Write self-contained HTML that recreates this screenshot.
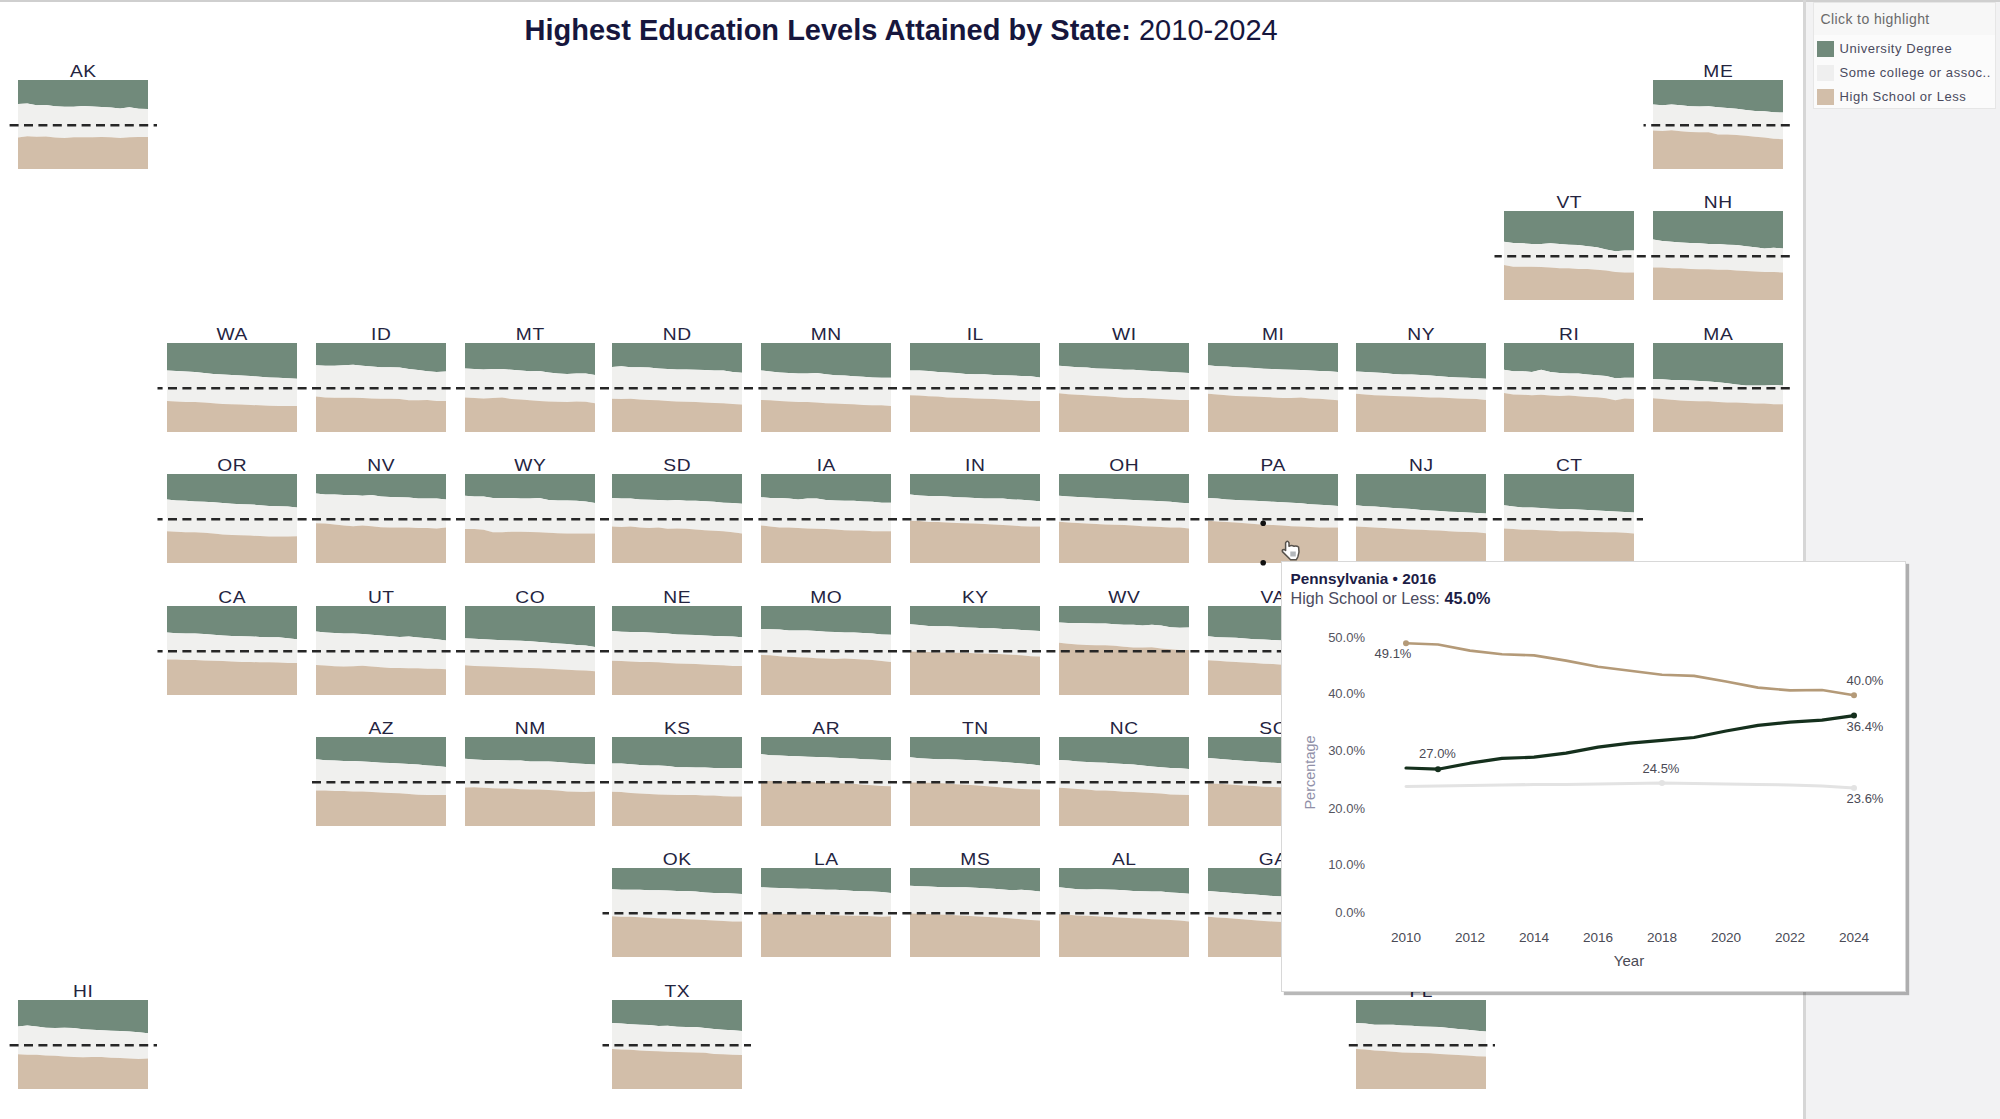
<!DOCTYPE html>
<html><head><meta charset="utf-8"><title>Highest Education Levels Attained by State</title>
<style>
html,body{margin:0;padding:0;}
body{width:2000px;height:1119px;position:relative;overflow:hidden;background:#fff;font-family:"Liberation Sans",sans-serif;}
.abs{position:absolute;}
.lbl{position:absolute;width:130px;text-align:center;font-size:17px;line-height:17px;color:#24243f;letter-spacing:0.5px;padding-left:0.5px;box-sizing:border-box;transform:scaleX(1.13);}
.title{position:absolute;left:524.5px;top:14px;font-size:29px;line-height:32px;letter-spacing:0px;color:#16163d;white-space:nowrap;}
.title b{font-weight:bold;}
.legend{position:absolute;left:1813px;top:2px;width:183px;height:107px;background:#fbfbfb;border:1px solid #e6e6e6;box-sizing:border-box;}
.lg-h{position:absolute;left:0;top:0;width:181px;height:32px;background:#f7f7f7;}
.lg-t{position:absolute;left:6.5px;top:8px;font-size:14px;line-height:16px;color:#6a6a6a;white-space:nowrap;letter-spacing:0.4px;}
.sw{position:absolute;left:3px;width:17px;height:16px;}
.li{position:absolute;left:25.5px;font-size:13px;line-height:14px;color:#4a4a5e;white-space:nowrap;letter-spacing:0.55px;}
.tip{position:absolute;left:1281px;top:561px;width:625px;height:431px;background:#fff;border:1px solid #d8d8d8;box-sizing:border-box;box-shadow:3px 3px 1px rgba(0,0,0,0.28);}
</style></head><body>

<div class="abs" style="left:0;top:0;width:2000px;height:2px;background:#cfcfcf"></div>
<div class="abs" style="left:1806px;top:2px;width:194px;height:1117px;background:#f2f2f3"></div>
<div class="abs" style="left:1803px;top:0;width:3px;height:1119px;background:#d6d6d6"></div>
<div class="title"><b>Highest Education Levels Attained by State:</b> 2010-2024</div>
<svg class="abs" style="left:0;top:0" width="1800" height="1119" viewBox="0 0 1800 1119">
<path d="M18 80 L148 80 L148 109 L138.7 108.7 L129.4 107.3 L120.1 108.5 L110.9 107.6 L101.6 107 L92.3 106.4 L83 105.9 L73.7 106.8 L64.4 106.8 L55.1 106.2 L45.9 104.9 L36.6 105.3 L27.3 103.6 L18 104Z" fill="#718a7b"/>
<path d="M18 104 L27.3 103.6 L36.6 105.3 L45.9 104.9 L55.1 106.2 L64.4 106.8 L73.7 106.8 L83 105.9 L92.3 106.4 L101.6 107 L110.9 107.6 L120.1 108.5 L129.4 107.3 L138.7 108.7 L148 109 L148 137 L138.7 137 L129.4 137.3 L120.1 137.9 L110.9 137.3 L101.6 137 L92.3 137.3 L83 137.3 L73.7 137.3 L64.4 138.1 L55.1 137.5 L45.9 136.6 L36.6 136.8 L27.3 136.2 L18 137.5Z" fill="#f0f0ee"/>
<path d="M18 137.5 L27.3 136.2 L36.6 136.8 L45.9 136.6 L55.1 137.5 L64.4 138.1 L73.7 137.3 L83 137.3 L92.3 137.3 L101.6 137 L110.9 137.3 L120.1 137.9 L129.4 137.3 L138.7 137 L148 137 L148 169 L18 169Z" fill="#d2bea9"/>
<path d="M1653 80 L1783 80 L1783 112.6 L1773.7 112.2 L1764.4 111.3 L1755.1 110.9 L1745.9 110 L1736.6 108.7 L1727.3 107.9 L1718 107.3 L1708.7 106.2 L1699.4 106.6 L1690.1 106.2 L1680.9 105.3 L1671.6 104.4 L1662.3 105.3 L1653 104.4Z" fill="#718a7b"/>
<path d="M1653 104.4 L1662.3 105.3 L1671.6 104.4 L1680.9 105.3 L1690.1 106.2 L1699.4 106.6 L1708.7 106.2 L1718 107.3 L1727.3 107.9 L1736.6 108.7 L1745.9 110 L1755.1 110.9 L1764.4 111.3 L1773.7 112.2 L1783 112.6 L1783 139.2 L1773.7 138.7 L1764.4 137.5 L1755.1 136.8 L1745.9 135.7 L1736.6 134.9 L1727.3 134.5 L1718 134.5 L1708.7 132.3 L1699.4 132.3 L1690.1 131.9 L1680.9 131.3 L1671.6 130.2 L1662.3 131 L1653 130.6Z" fill="#f0f0ee"/>
<path d="M1653 130.6 L1662.3 131 L1671.6 130.2 L1680.9 131.3 L1690.1 131.9 L1699.4 132.3 L1708.7 132.3 L1718 134.5 L1727.3 134.5 L1736.6 134.9 L1745.9 135.7 L1755.1 136.8 L1764.4 137.5 L1773.7 138.7 L1783 139.2 L1783 169 L1653 169Z" fill="#d2bea9"/>
<path d="M1504 211 L1634 211 L1634 250.6 L1624.7 250.6 L1615.4 251.3 L1606.1 249.5 L1596.9 247.3 L1587.6 246.2 L1578.3 245.1 L1569 244.7 L1559.7 244 L1550.4 243.3 L1541.1 244 L1531.9 244 L1522.6 243.3 L1513.3 242.9 L1504 241.8Z" fill="#718a7b"/>
<path d="M1504 241.8 L1513.3 242.9 L1522.6 243.3 L1531.9 244 L1541.1 244 L1550.4 243.3 L1559.7 244 L1569 244.7 L1578.3 245.1 L1587.6 246.2 L1596.9 247.3 L1606.1 249.5 L1615.4 251.3 L1624.7 250.6 L1634 250.6 L1634 272.6 L1624.7 272.6 L1615.4 271.9 L1606.1 270.4 L1596.9 269.7 L1587.6 268.9 L1578.3 268.9 L1569 268.2 L1559.7 268.2 L1550.4 267.5 L1541.1 267.1 L1531.9 266.7 L1522.6 266.7 L1513.3 266.7 L1504 264.9Z" fill="#f0f0ee"/>
<path d="M1504 264.9 L1513.3 266.7 L1522.6 266.7 L1531.9 266.7 L1541.1 267.1 L1550.4 267.5 L1559.7 268.2 L1569 268.2 L1578.3 268.9 L1587.6 268.9 L1596.9 269.7 L1606.1 270.4 L1615.4 271.9 L1624.7 272.6 L1634 272.6 L1634 300 L1504 300Z" fill="#d2bea9"/>
<path d="M1653 211 L1783 211 L1783 248.4 L1773.7 247.7 L1764.4 248.4 L1755.1 247.3 L1745.9 246.2 L1736.6 245.1 L1727.3 244.7 L1718 244 L1708.7 244 L1699.4 243.3 L1690.1 242.9 L1680.9 242.4 L1671.6 241.8 L1662.3 241.1 L1653 239.6Z" fill="#718a7b"/>
<path d="M1653 239.6 L1662.3 241.1 L1671.6 241.8 L1680.9 242.4 L1690.1 242.9 L1699.4 243.3 L1708.7 244 L1718 244 L1727.3 244.7 L1736.6 245.1 L1745.9 246.2 L1755.1 247.3 L1764.4 248.4 L1773.7 247.7 L1783 248.4 L1783 272.6 L1773.7 271.9 L1764.4 271.9 L1755.1 271.5 L1745.9 271.1 L1736.6 270.4 L1727.3 269.7 L1718 269.7 L1708.7 269.3 L1699.4 269.3 L1690.1 268.9 L1680.9 268.2 L1671.6 268.2 L1662.3 267.5 L1653 267.5Z" fill="#f0f0ee"/>
<path d="M1653 267.5 L1662.3 267.5 L1671.6 268.2 L1680.9 268.2 L1690.1 268.9 L1699.4 269.3 L1708.7 269.3 L1718 269.7 L1727.3 269.7 L1736.6 270.4 L1745.9 271.1 L1755.1 271.5 L1764.4 271.9 L1773.7 271.9 L1783 272.6 L1783 300 L1653 300Z" fill="#d2bea9"/>
<path d="M167 343 L297 343 L297 378.8 L287.7 378.2 L278.4 377.8 L269.1 377.4 L259.9 376.8 L250.6 375.9 L241.3 375.6 L232 374.9 L222.7 374.5 L213.4 373.9 L204.1 373 L194.9 372 L185.6 371.6 L176.3 371 L167 370.5Z" fill="#718a7b"/>
<path d="M167 370.5 L176.3 371 L185.6 371.6 L194.9 372 L204.1 373 L213.4 373.9 L222.7 374.5 L232 374.9 L241.3 375.6 L250.6 375.9 L259.9 376.8 L269.1 377.4 L278.4 377.8 L287.7 378.2 L297 378.8 L297 406.1 L287.7 406.1 L278.4 406.1 L269.1 405.8 L259.9 405.3 L250.6 404.9 L241.3 404.6 L232 404.3 L222.7 403.9 L213.4 403.2 L204.1 402.5 L194.9 402 L185.6 402 L176.3 401.4 L167 401Z" fill="#f0f0ee"/>
<path d="M167 401 L176.3 401.4 L185.6 402 L194.9 402 L204.1 402.5 L213.4 403.2 L222.7 403.9 L232 404.3 L241.3 404.6 L250.6 404.9 L259.9 405.3 L269.1 405.8 L278.4 406.1 L287.7 406.1 L297 406.1 L297 432 L167 432Z" fill="#d2bea9"/>
<path d="M316 343 L446 343 L446 371.6 L436.7 372 L427.4 371.3 L418.1 370.1 L408.9 369.1 L399.6 367.6 L390.3 367.2 L381 367.2 L371.7 366.6 L362.4 365.8 L353.1 364.8 L343.9 365.2 L334.6 365.8 L325.3 365.8 L316 365.2Z" fill="#718a7b"/>
<path d="M316 365.2 L325.3 365.8 L334.6 365.8 L343.9 365.2 L353.1 364.8 L362.4 365.8 L371.7 366.6 L381 367.2 L390.3 367.2 L399.6 367.6 L408.9 369.1 L418.1 370.1 L427.4 371.3 L436.7 372 L446 371.6 L446 401 L436.7 401 L427.4 400 L418.1 400.3 L408.9 400.3 L399.6 399.1 L390.3 398.8 L381 398.8 L371.7 398.5 L362.4 398.1 L353.1 397.7 L343.9 397.7 L334.6 397.7 L325.3 397.4 L316 396.6Z" fill="#f0f0ee"/>
<path d="M316 396.6 L325.3 397.4 L334.6 397.7 L343.9 397.7 L353.1 397.7 L362.4 398.1 L371.7 398.5 L381 398.8 L390.3 398.8 L399.6 399.1 L408.9 400.3 L418.1 400.3 L427.4 400 L436.7 401 L446 401 L446 432 L316 432Z" fill="#d2bea9"/>
<path d="M465 343 L595 343 L595 374.9 L585.7 373.4 L576.4 373.4 L567.1 373.9 L557.9 373.4 L548.6 372.4 L539.3 371 L530 371.3 L520.7 370.5 L511.4 369.8 L502.1 369.1 L492.9 369.1 L483.6 369.5 L474.3 369.1 L465 368.4Z" fill="#718a7b"/>
<path d="M465 368.4 L474.3 369.1 L483.6 369.5 L492.9 369.1 L502.1 369.1 L511.4 369.8 L520.7 370.5 L530 371.3 L539.3 371 L548.6 372.4 L557.9 373.4 L567.1 373.9 L576.4 373.4 L585.7 373.4 L595 374.9 L595 403.2 L585.7 401.7 L576.4 401.4 L567.1 402 L557.9 401.7 L548.6 401.4 L539.3 401 L530 400.3 L520.7 399.5 L511.4 399.1 L502.1 397.4 L492.9 398.1 L483.6 398.5 L474.3 398.1 L465 397.4Z" fill="#f0f0ee"/>
<path d="M465 397.4 L474.3 398.1 L483.6 398.5 L492.9 398.1 L502.1 397.4 L511.4 399.1 L520.7 399.5 L530 400.3 L539.3 401 L548.6 401.4 L557.9 401.7 L567.1 402 L576.4 401.4 L585.7 401.7 L595 403.2 L595 432 L465 432Z" fill="#d2bea9"/>
<path d="M612 343 L742 343 L742 372.7 L732.7 372 L723.4 370.5 L714.1 370.5 L704.9 370.1 L695.6 369.8 L686.3 369.5 L677 369.5 L667.7 369.1 L658.4 368.4 L649.1 367.6 L639.9 367.2 L630.6 367.2 L621.3 366.2 L612 366.9Z" fill="#718a7b"/>
<path d="M612 366.9 L621.3 366.2 L630.6 367.2 L639.9 367.2 L649.1 367.6 L658.4 368.4 L667.7 369.1 L677 369.5 L686.3 369.5 L695.6 369.8 L704.9 370.1 L714.1 370.5 L723.4 370.5 L732.7 372 L742 372.7 L742 404.6 L732.7 403.9 L723.4 403.2 L714.1 402.9 L704.9 402.4 L695.6 402 L686.3 401.7 L677 401.4 L667.7 401 L658.4 400.3 L649.1 400 L639.9 399.5 L630.6 398.8 L621.3 399.1 L612 398.8Z" fill="#f0f0ee"/>
<path d="M612 398.8 L621.3 399.1 L630.6 398.8 L639.9 399.5 L649.1 400 L658.4 400.3 L667.7 401 L677 401.4 L686.3 401.7 L695.6 402 L704.9 402.4 L714.1 402.9 L723.4 403.2 L732.7 403.9 L742 404.6 L742 432 L612 432Z" fill="#d2bea9"/>
<path d="M761 343 L891 343 L891 377.8 L881.7 377.8 L872.4 377.4 L863.1 376.8 L853.9 376.3 L844.6 375.6 L835.3 375.3 L826 374.2 L816.7 373 L807.4 373.4 L798.1 373.4 L788.9 373 L779.6 372.4 L770.3 371.6 L761 370.5Z" fill="#718a7b"/>
<path d="M761 370.5 L770.3 371.6 L779.6 372.4 L788.9 373 L798.1 373.4 L807.4 373.4 L816.7 373 L826 374.2 L835.3 375.3 L844.6 375.6 L853.9 376.3 L863.1 376.8 L872.4 377.4 L881.7 377.8 L891 377.8 L891 406.1 L881.7 405.3 L872.4 405.3 L863.1 404.9 L853.9 404.3 L844.6 403.9 L835.3 403.5 L826 403.2 L816.7 402.4 L807.4 402 L798.1 402 L788.9 401.4 L779.6 401 L770.3 400.3 L761 400Z" fill="#f0f0ee"/>
<path d="M761 400 L770.3 400.3 L779.6 401 L788.9 401.4 L798.1 402 L807.4 402 L816.7 402.4 L826 403.2 L835.3 403.5 L844.6 403.9 L853.9 404.3 L863.1 404.9 L872.4 405.3 L881.7 405.3 L891 406.1 L891 432 L761 432Z" fill="#d2bea9"/>
<path d="M910 343 L1040 343 L1040 377.4 L1030.7 376.3 L1021.4 375.9 L1012.1 375.6 L1002.9 375.3 L993.6 374.9 L984.3 374.2 L975 374.2 L965.7 373.9 L956.4 373 L947.1 372.4 L937.9 372 L928.6 371 L919.3 370.5 L910 370.5Z" fill="#718a7b"/>
<path d="M910 370.5 L919.3 370.5 L928.6 371 L937.9 372 L947.1 372.4 L956.4 373 L965.7 373.9 L975 374.2 L984.3 374.2 L993.6 374.9 L1002.9 375.3 L1012.1 375.6 L1021.4 375.9 L1030.7 376.3 L1040 377.4 L1040 401 L1030.7 401 L1021.4 400.3 L1012.1 400 L1002.9 399.5 L993.6 399.1 L984.3 398.8 L975 398.5 L965.7 398.1 L956.4 397.7 L947.1 397.4 L937.9 396.6 L928.6 396.2 L919.3 395.6 L910 395.2Z" fill="#f0f0ee"/>
<path d="M910 395.2 L919.3 395.6 L928.6 396.2 L937.9 396.6 L947.1 397.4 L956.4 397.7 L965.7 398.1 L975 398.5 L984.3 398.8 L993.6 399.1 L1002.9 399.5 L1012.1 400 L1021.4 400.3 L1030.7 401 L1040 401 L1040 432 L910 432Z" fill="#d2bea9"/>
<path d="M1059 343 L1189 343 L1189 373 L1179.7 372.4 L1170.4 372 L1161.1 371.6 L1151.9 371 L1142.6 370.5 L1133.3 369.8 L1124 369.8 L1114.7 369.1 L1105.4 368.7 L1096.1 368.4 L1086.9 367.6 L1077.6 367.2 L1068.3 366.6 L1059 365.8Z" fill="#718a7b"/>
<path d="M1059 365.8 L1068.3 366.6 L1077.6 367.2 L1086.9 367.6 L1096.1 368.4 L1105.4 368.7 L1114.7 369.1 L1124 369.8 L1133.3 369.8 L1142.6 370.5 L1151.9 371 L1161.1 371.6 L1170.4 372 L1179.7 372.4 L1189 373 L1189 400 L1179.7 400 L1170.4 399.5 L1161.1 399.1 L1151.9 398.5 L1142.6 398.1 L1133.3 398.1 L1124 397.7 L1114.7 397.1 L1105.4 396.2 L1096.1 395.9 L1086.9 395.2 L1077.6 394.8 L1068.3 394.2 L1059 393.3Z" fill="#f0f0ee"/>
<path d="M1059 393.3 L1068.3 394.2 L1077.6 394.8 L1086.9 395.2 L1096.1 395.9 L1105.4 396.2 L1114.7 397.1 L1124 397.7 L1133.3 398.1 L1142.6 398.1 L1151.9 398.5 L1161.1 399.1 L1170.4 399.5 L1179.7 400 L1189 400 L1189 432 L1059 432Z" fill="#d2bea9"/>
<path d="M1208 343 L1338 343 L1338 372 L1328.7 371.3 L1319.4 371 L1310.1 370.5 L1300.9 370.1 L1291.6 369.8 L1282.3 369.5 L1273 369.1 L1263.7 368.7 L1254.4 368.1 L1245.1 367.6 L1235.9 367.2 L1226.6 366.6 L1217.3 366.2 L1208 365.2Z" fill="#718a7b"/>
<path d="M1208 365.2 L1217.3 366.2 L1226.6 366.6 L1235.9 367.2 L1245.1 367.6 L1254.4 368.1 L1263.7 368.7 L1273 369.1 L1282.3 369.5 L1291.6 369.8 L1300.9 370.1 L1310.1 370.5 L1319.4 371 L1328.7 371.3 L1338 372 L1338 400.3 L1328.7 399.5 L1319.4 398.8 L1310.1 398.5 L1300.9 397.6 L1291.6 398.1 L1282.3 398.1 L1273 397.4 L1263.7 397.1 L1254.4 396.6 L1245.1 396.2 L1235.9 395.9 L1226.6 395.2 L1217.3 394.5 L1208 393.8Z" fill="#f0f0ee"/>
<path d="M1208 393.8 L1217.3 394.5 L1226.6 395.2 L1235.9 395.9 L1245.1 396.2 L1254.4 396.6 L1263.7 397.1 L1273 397.4 L1282.3 398.1 L1291.6 398.1 L1300.9 397.6 L1310.1 398.5 L1319.4 398.8 L1328.7 399.5 L1338 400.3 L1338 432 L1208 432Z" fill="#d2bea9"/>
<path d="M1356 343 L1486 343 L1486 378.8 L1476.7 378.2 L1467.4 377.8 L1458.1 377.4 L1448.9 377.1 L1439.6 376.3 L1430.3 375.6 L1421 374.9 L1411.7 374.5 L1402.4 374.5 L1393.1 373.9 L1383.9 373 L1374.6 372.4 L1365.3 372 L1356 371.6Z" fill="#718a7b"/>
<path d="M1356 371.6 L1365.3 372 L1374.6 372.4 L1383.9 373 L1393.1 373.9 L1402.4 374.5 L1411.7 374.5 L1421 374.9 L1430.3 375.6 L1439.6 376.3 L1448.9 377.1 L1458.1 377.4 L1467.4 377.8 L1476.7 378.2 L1486 378.8 L1486 400 L1476.7 399.1 L1467.4 398.8 L1458.1 398.5 L1448.9 398.1 L1439.6 397.6 L1430.3 397.4 L1421 397.1 L1411.7 396.6 L1402.4 396.2 L1393.1 395.9 L1383.9 395.6 L1374.6 395.2 L1365.3 394.5 L1356 393.8Z" fill="#f0f0ee"/>
<path d="M1356 393.8 L1365.3 394.5 L1374.6 395.2 L1383.9 395.6 L1393.1 395.9 L1402.4 396.2 L1411.7 396.6 L1421 397.1 L1430.3 397.4 L1439.6 397.6 L1448.9 398.1 L1458.1 398.5 L1467.4 398.8 L1476.7 399.1 L1486 400 L1486 432 L1356 432Z" fill="#d2bea9"/>
<path d="M1504 343 L1634 343 L1634 377.8 L1624.7 377.8 L1615.4 378.2 L1606.1 376.1 L1596.9 375.3 L1587.6 374.4 L1578.3 373.4 L1569 373.4 L1559.7 373.1 L1550.4 371.9 L1541.1 369.7 L1531.9 371.9 L1522.6 371.2 L1513.3 371.2 L1504 369.7Z" fill="#718a7b"/>
<path d="M1504 369.7 L1513.3 371.2 L1522.6 371.2 L1531.9 371.9 L1541.1 369.7 L1550.4 371.9 L1559.7 373.1 L1569 373.4 L1578.3 373.4 L1587.6 374.4 L1596.9 375.3 L1606.1 376.1 L1615.4 378.2 L1624.7 377.8 L1634 377.8 L1634 399 L1624.7 398.6 L1615.4 400.3 L1606.1 398.2 L1596.9 397.3 L1587.6 396.9 L1578.3 396.3 L1569 395.6 L1559.7 396.1 L1550.4 395.6 L1541.1 394.8 L1531.9 395.2 L1522.6 394.8 L1513.3 394.4 L1504 393.1Z" fill="#f0f0ee"/>
<path d="M1504 393.1 L1513.3 394.4 L1522.6 394.8 L1531.9 395.2 L1541.1 394.8 L1550.4 395.6 L1559.7 396.1 L1569 395.6 L1578.3 396.3 L1587.6 396.9 L1596.9 397.3 L1606.1 398.2 L1615.4 400.3 L1624.7 398.6 L1634 399 L1634 432 L1504 432Z" fill="#d2bea9"/>
<path d="M1653 343 L1783 343 L1783 385.5 L1773.7 385 L1764.4 385.5 L1755.1 385.5 L1745.9 385.5 L1736.6 384.4 L1727.3 383.3 L1718 382.2 L1708.7 381.5 L1699.4 381.1 L1690.1 380.6 L1680.9 380 L1671.6 380 L1662.3 379.3 L1653 378.9Z" fill="#718a7b"/>
<path d="M1653 378.9 L1662.3 379.3 L1671.6 380 L1680.9 380 L1690.1 380.6 L1699.4 381.1 L1708.7 381.5 L1718 382.2 L1727.3 383.3 L1736.6 384.4 L1745.9 385.5 L1755.1 385.5 L1764.4 385.5 L1773.7 385 L1783 385.5 L1783 404.2 L1773.7 404.2 L1764.4 403.5 L1755.1 403.5 L1745.9 403.1 L1736.6 402.6 L1727.3 402.6 L1718 402 L1708.7 401.3 L1699.4 401.3 L1690.1 400.9 L1680.9 400.4 L1671.6 399.8 L1662.3 399.1 L1653 398.2Z" fill="#f0f0ee"/>
<path d="M1653 398.2 L1662.3 399.1 L1671.6 399.8 L1680.9 400.4 L1690.1 400.9 L1699.4 401.3 L1708.7 401.3 L1718 402 L1727.3 402.6 L1736.6 402.6 L1745.9 403.1 L1755.1 403.5 L1764.4 403.5 L1773.7 404.2 L1783 404.2 L1783 432 L1653 432Z" fill="#d2bea9"/>
<path d="M167 474 L297 474 L297 507.6 L287.7 506.6 L278.4 506.2 L269.1 505.9 L259.9 505.2 L250.6 504.4 L241.3 504.2 L232 503.7 L222.7 503 L213.4 502.3 L204.1 501.8 L194.9 501.5 L185.6 500.8 L176.3 500.4 L167 499.4Z" fill="#718a7b"/>
<path d="M167 499.4 L176.3 500.4 L185.6 500.8 L194.9 501.5 L204.1 501.8 L213.4 502.3 L222.7 503 L232 503.7 L241.3 504.2 L250.6 504.4 L259.9 505.2 L269.1 505.9 L278.4 506.2 L287.7 506.6 L297 507.6 L297 536.3 L287.7 536.6 L278.4 536.6 L269.1 536.6 L259.9 536.1 L250.6 535.6 L241.3 535.2 L232 534.9 L222.7 534.6 L213.4 533.4 L204.1 532.7 L194.9 532.3 L185.6 532.3 L176.3 531.7 L167 531.3Z" fill="#f0f0ee"/>
<path d="M167 531.3 L176.3 531.7 L185.6 532.3 L194.9 532.3 L204.1 532.7 L213.4 533.4 L222.7 534.6 L232 534.9 L241.3 535.2 L250.6 535.6 L259.9 536.1 L269.1 536.6 L278.4 536.6 L287.7 536.6 L297 536.3 L297 563 L167 563Z" fill="#d2bea9"/>
<path d="M316 474 L446 474 L446 499.4 L436.7 498.6 L427.4 498.4 L418.1 498.6 L408.9 497.5 L399.6 497.2 L390.3 496.9 L381 496.5 L371.7 495 L362.4 495.8 L353.1 495 L343.9 495 L334.6 494.6 L325.3 494.6 L316 493.6Z" fill="#718a7b"/>
<path d="M316 493.6 L325.3 494.6 L334.6 494.6 L343.9 495 L353.1 495 L362.4 495.8 L371.7 495 L381 496.5 L390.3 496.9 L399.6 497.2 L408.9 497.5 L418.1 498.6 L427.4 498.4 L436.7 498.6 L446 499.4 L446 527.6 L436.7 528.4 L427.4 527.9 L418.1 527.9 L408.9 527.6 L399.6 527.6 L390.3 527.6 L381 527.2 L371.7 526.2 L362.4 525.5 L353.1 526.2 L343.9 525.5 L334.6 524.5 L325.3 523.6 L316 523.3Z" fill="#f0f0ee"/>
<path d="M316 523.3 L325.3 523.6 L334.6 524.5 L343.9 525.5 L353.1 526.2 L362.4 525.5 L371.7 526.2 L381 527.2 L390.3 527.6 L399.6 527.6 L408.9 527.6 L418.1 527.9 L427.4 527.9 L436.7 528.4 L446 527.6 L446 563 L316 563Z" fill="#d2bea9"/>
<path d="M465 474 L595 474 L595 503 L585.7 501.5 L576.4 500.8 L567.1 500.4 L557.9 500.4 L548.6 500.1 L539.3 497.9 L530 498.6 L520.7 498.6 L511.4 497.9 L502.1 497.9 L492.9 497.9 L483.6 496.5 L474.3 496.5 L465 495.8Z" fill="#718a7b"/>
<path d="M465 495.8 L474.3 496.5 L483.6 496.5 L492.9 497.9 L502.1 497.9 L511.4 497.9 L520.7 498.6 L530 498.6 L539.3 497.9 L548.6 500.1 L557.9 500.4 L567.1 500.4 L576.4 500.8 L585.7 501.5 L595 503 L595 533.4 L585.7 533.4 L576.4 533.4 L567.1 533.4 L557.9 533.2 L548.6 532.7 L539.3 532.3 L530 532 L520.7 531.7 L511.4 531.7 L502.1 532.3 L492.9 532.3 L483.6 529.8 L474.3 529.1 L465 529.1Z" fill="#f0f0ee"/>
<path d="M465 529.1 L474.3 529.1 L483.6 529.8 L492.9 532.3 L502.1 532.3 L511.4 531.7 L520.7 531.7 L530 532 L539.3 532.3 L548.6 532.7 L557.9 533.2 L567.1 533.4 L576.4 533.4 L585.7 533.4 L595 533.4 L595 563 L465 563Z" fill="#d2bea9"/>
<path d="M612 474 L742 474 L742 503.7 L732.7 503 L723.4 502.7 L714.1 501.8 L704.9 501.3 L695.6 500.8 L686.3 500.8 L677 500.1 L667.7 500.4 L658.4 500.1 L649.1 499.8 L639.9 499.4 L630.6 498.6 L621.3 498.6 L612 497.9Z" fill="#718a7b"/>
<path d="M612 497.9 L621.3 498.6 L630.6 498.6 L639.9 499.4 L649.1 499.8 L658.4 500.1 L667.7 500.4 L677 500.1 L686.3 500.8 L695.6 500.8 L704.9 501.3 L714.1 501.8 L723.4 502.7 L732.7 503 L742 503.7 L742 533.4 L732.7 532.3 L723.4 531.3 L714.1 530.8 L704.9 530.3 L695.6 529.4 L686.3 528.8 L677 528.4 L667.7 528.8 L658.4 527.6 L649.1 527.9 L639.9 527.6 L630.6 526.5 L621.3 526.9 L612 526.5Z" fill="#f0f0ee"/>
<path d="M612 526.5 L621.3 526.9 L630.6 526.5 L639.9 527.6 L649.1 527.9 L658.4 527.6 L667.7 528.8 L677 528.4 L686.3 528.8 L695.6 529.4 L704.9 530.3 L714.1 530.8 L723.4 531.3 L732.7 532.3 L742 533.4 L742 563 L612 563Z" fill="#d2bea9"/>
<path d="M761 474 L891 474 L891 502.7 L881.7 502.7 L872.4 501.8 L863.1 501.5 L853.9 500.8 L844.6 500.8 L835.3 500.4 L826 500.1 L816.7 498.6 L807.4 498.6 L798.1 499.4 L788.9 498.6 L779.6 497.9 L770.3 497.9 L761 497.2Z" fill="#718a7b"/>
<path d="M761 497.2 L770.3 497.9 L779.6 497.9 L788.9 498.6 L798.1 499.4 L807.4 498.6 L816.7 498.6 L826 500.1 L835.3 500.4 L844.6 500.8 L853.9 500.8 L863.1 501.5 L872.4 501.8 L881.7 502.7 L891 502.7 L891 531.3 L881.7 531.3 L872.4 531.3 L863.1 530.5 L853.9 530.5 L844.6 530.3 L835.3 529.4 L826 529.1 L816.7 528.8 L807.4 528.4 L798.1 527.9 L788.9 527.6 L779.6 527.4 L770.3 526.5 L761 525.5Z" fill="#f0f0ee"/>
<path d="M761 525.5 L770.3 526.5 L779.6 527.4 L788.9 527.6 L798.1 527.9 L807.4 528.4 L816.7 528.8 L826 529.1 L835.3 529.4 L844.6 530.3 L853.9 530.5 L863.1 530.5 L872.4 531.3 L881.7 531.3 L891 531.3 L891 563 L761 563Z" fill="#d2bea9"/>
<path d="M910 474 L1040 474 L1040 501.3 L1030.7 500.4 L1021.4 499.8 L1012.1 499.4 L1002.9 498.6 L993.6 498.4 L984.3 498.4 L975 497.9 L965.7 497.5 L956.4 497.2 L947.1 496.5 L937.9 496 L928.6 496 L919.3 495.5 L910 494.6Z" fill="#718a7b"/>
<path d="M910 494.6 L919.3 495.5 L928.6 496 L937.9 496 L947.1 496.5 L956.4 497.2 L965.7 497.5 L975 497.9 L984.3 498.4 L993.6 498.4 L1002.9 498.6 L1012.1 499.4 L1021.4 499.8 L1030.7 500.4 L1040 501.3 L1040 526.5 L1030.7 526.5 L1021.4 526.2 L1012.1 525.5 L1002.9 525 L993.6 524.5 L984.3 524 L975 523.6 L965.7 523.3 L956.4 523 L947.1 522.6 L937.9 522.1 L928.6 522.1 L919.3 521.1 L910 520.7Z" fill="#f0f0ee"/>
<path d="M910 520.7 L919.3 521.1 L928.6 522.1 L937.9 522.1 L947.1 522.6 L956.4 523 L965.7 523.3 L975 523.6 L984.3 524 L993.6 524.5 L1002.9 525 L1012.1 525.5 L1021.4 526.2 L1030.7 526.5 L1040 526.5 L1040 563 L910 563Z" fill="#d2bea9"/>
<path d="M1059 474 L1189 474 L1189 503.3 L1179.7 502.7 L1170.4 501.8 L1161.1 501.3 L1151.9 500.8 L1142.6 500.4 L1133.3 500.1 L1124 499.4 L1114.7 498.9 L1105.4 498.6 L1096.1 497.9 L1086.9 497.5 L1077.6 496.9 L1068.3 496.5 L1059 495.8Z" fill="#718a7b"/>
<path d="M1059 495.8 L1068.3 496.5 L1077.6 496.9 L1086.9 497.5 L1096.1 497.9 L1105.4 498.6 L1114.7 498.9 L1124 499.4 L1133.3 500.1 L1142.6 500.4 L1151.9 500.8 L1161.1 501.3 L1170.4 501.8 L1179.7 502.7 L1189 503.3 L1189 528.4 L1179.7 527.6 L1170.4 527.4 L1161.1 526.9 L1151.9 526.5 L1142.6 526.2 L1133.3 525.5 L1124 525 L1114.7 524.8 L1105.4 524.5 L1096.1 524 L1086.9 523.6 L1077.6 523 L1068.3 522.6 L1059 521.8Z" fill="#f0f0ee"/>
<path d="M1059 521.8 L1068.3 522.6 L1077.6 523 L1086.9 523.6 L1096.1 524 L1105.4 524.5 L1114.7 524.8 L1124 525 L1133.3 525.5 L1142.6 526.2 L1151.9 526.5 L1161.1 526.9 L1170.4 527.4 L1179.7 527.6 L1189 528.4 L1189 563 L1059 563Z" fill="#d2bea9"/>
<path d="M1208 474 L1338 474 L1338 505.9 L1328.7 505.2 L1319.4 504.7 L1310.1 504.2 L1300.9 503.3 L1291.6 502.7 L1282.3 502.3 L1273 501.8 L1263.7 501.3 L1254.4 500.8 L1245.1 500.4 L1235.9 500.1 L1226.6 499.4 L1217.3 498.6 L1208 497.9Z" fill="#718a7b"/>
<path d="M1208 497.9 L1217.3 498.6 L1226.6 499.4 L1235.9 500.1 L1245.1 500.4 L1254.4 500.8 L1263.7 501.3 L1273 501.8 L1282.3 502.3 L1291.6 502.7 L1300.9 503.3 L1310.1 504.2 L1319.4 504.7 L1328.7 505.2 L1338 505.9 L1338 527.6 L1328.7 527.6 L1319.4 527.4 L1310.1 526.9 L1300.9 526.5 L1291.6 526.2 L1282.3 525.5 L1273 525 L1263.7 524.8 L1254.4 524 L1245.1 523.3 L1235.9 522.6 L1226.6 522.1 L1217.3 521.6 L1208 520.7Z" fill="#f0f0ee"/>
<path d="M1208 520.7 L1217.3 521.6 L1226.6 522.1 L1235.9 522.6 L1245.1 523.3 L1254.4 524 L1263.7 524.8 L1273 525 L1282.3 525.5 L1291.6 526.2 L1300.9 526.5 L1310.1 526.9 L1319.4 527.4 L1328.7 527.6 L1338 527.6 L1338 563 L1208 563Z" fill="#d2bea9"/>
<path d="M1356 474 L1486 474 L1486 513.4 L1476.7 512.9 L1467.4 512.4 L1458.1 512 L1448.9 511.7 L1439.6 511 L1430.3 510.5 L1421 510 L1411.7 509.1 L1402.4 508.5 L1393.1 508.1 L1383.9 507.3 L1374.6 506.6 L1365.3 506.2 L1356 505.2Z" fill="#718a7b"/>
<path d="M1356 505.2 L1365.3 506.2 L1374.6 506.6 L1383.9 507.3 L1393.1 508.1 L1402.4 508.5 L1411.7 509.1 L1421 510 L1430.3 510.5 L1439.6 511 L1448.9 511.7 L1458.1 512 L1467.4 512.4 L1476.7 512.9 L1486 513.4 L1486 533.2 L1476.7 532.3 L1467.4 532 L1458.1 531.7 L1448.9 531.3 L1439.6 530.5 L1430.3 530.3 L1421 529.8 L1411.7 529.4 L1402.4 529.1 L1393.1 528.4 L1383.9 527.9 L1374.6 527.6 L1365.3 526.9 L1356 526.5Z" fill="#f0f0ee"/>
<path d="M1356 526.5 L1365.3 526.9 L1374.6 527.6 L1383.9 527.9 L1393.1 528.4 L1402.4 529.1 L1411.7 529.4 L1421 529.8 L1430.3 530.3 L1439.6 530.5 L1448.9 531.3 L1458.1 531.7 L1467.4 532 L1476.7 532.3 L1486 533.2 L1486 563 L1356 563Z" fill="#d2bea9"/>
<path d="M1504 474 L1634 474 L1634 512.4 L1624.7 512 L1615.4 511.4 L1606.1 511 L1596.9 510.5 L1587.6 510 L1578.3 509.5 L1569 509.1 L1559.7 509.1 L1550.4 508.8 L1541.1 508.1 L1531.9 507.6 L1522.6 507.6 L1513.3 506.6 L1504 505.2Z" fill="#718a7b"/>
<path d="M1504 505.2 L1513.3 506.6 L1522.6 507.6 L1531.9 507.6 L1541.1 508.1 L1550.4 508.8 L1559.7 509.1 L1569 509.1 L1578.3 509.5 L1587.6 510 L1596.9 510.5 L1606.1 511 L1615.4 511.4 L1624.7 512 L1634 512.4 L1634 533.4 L1624.7 532.7 L1615.4 532.3 L1606.1 532.3 L1596.9 532 L1587.6 531.7 L1578.3 531.3 L1569 531.3 L1559.7 531.3 L1550.4 530.5 L1541.1 530.3 L1531.9 529.8 L1522.6 529.8 L1513.3 529.1 L1504 528.4Z" fill="#f0f0ee"/>
<path d="M1504 528.4 L1513.3 529.1 L1522.6 529.8 L1531.9 529.8 L1541.1 530.3 L1550.4 530.5 L1559.7 531.3 L1569 531.3 L1578.3 531.3 L1587.6 531.7 L1596.9 532 L1606.1 532.3 L1615.4 532.3 L1624.7 532.7 L1634 533.4 L1634 563 L1504 563Z" fill="#d2bea9"/>
<path d="M167 606 L297 606 L297 639.3 L287.7 638.3 L278.4 637.3 L269.1 637.3 L259.9 636.9 L250.6 636.4 L241.3 636.2 L232 635.9 L222.7 635.4 L213.4 634.7 L204.1 634 L194.9 633.6 L185.6 633.6 L176.3 633.3 L167 632.5Z" fill="#718a7b"/>
<path d="M167 632.5 L176.3 633.3 L185.6 633.6 L194.9 633.6 L204.1 634 L213.4 634.7 L222.7 635.4 L232 635.9 L241.3 636.2 L250.6 636.4 L259.9 636.9 L269.1 637.3 L278.4 637.3 L287.7 638.3 L297 639.3 L297 663 L287.7 663 L278.4 662.5 L269.1 662.3 L259.9 662.3 L250.6 662 L241.3 662 L232 661.5 L222.7 661.1 L213.4 660.8 L204.1 660.5 L194.9 660.1 L185.6 660.1 L176.3 659.6 L167 659.4Z" fill="#f0f0ee"/>
<path d="M167 659.4 L176.3 659.6 L185.6 660.1 L194.9 660.1 L204.1 660.5 L213.4 660.8 L222.7 661.1 L232 661.5 L241.3 662 L250.6 662 L259.9 662.3 L269.1 662.3 L278.4 662.5 L287.7 663 L297 663 L297 695 L167 695Z" fill="#d2bea9"/>
<path d="M316 606 L446 606 L446 640.5 L436.7 639.3 L427.4 638.3 L418.1 637.6 L408.9 636.4 L399.6 636.9 L390.3 636.2 L381 635.4 L371.7 634.7 L362.4 634 L353.1 633.6 L343.9 633.6 L334.6 633 L325.3 632.5 L316 631.5Z" fill="#718a7b"/>
<path d="M316 631.5 L325.3 632.5 L334.6 633 L343.9 633.6 L353.1 633.6 L362.4 634 L371.7 634.7 L381 635.4 L390.3 636.2 L399.6 636.9 L408.9 636.4 L418.1 637.6 L427.4 638.3 L436.7 639.3 L446 640.5 L446 669.2 L436.7 668.8 L427.4 668.8 L418.1 668.3 L408.9 668.3 L399.6 668 L390.3 668 L381 667.3 L371.7 666.6 L362.4 665.8 L353.1 666.3 L343.9 666.6 L334.6 666.3 L325.3 665.4 L316 664.9Z" fill="#f0f0ee"/>
<path d="M316 664.9 L325.3 665.4 L334.6 666.3 L343.9 666.6 L353.1 666.3 L362.4 665.8 L371.7 666.6 L381 667.3 L390.3 668 L399.6 668 L408.9 668.3 L418.1 668.3 L427.4 668.8 L436.7 668.8 L446 669.2 L446 695 L316 695Z" fill="#d2bea9"/>
<path d="M465 606 L595 606 L595 647 L585.7 645.6 L576.4 644.9 L567.1 644.1 L557.9 643.4 L548.6 642.7 L539.3 642 L530 641.2 L520.7 640.8 L511.4 640.5 L502.1 640.2 L492.9 639.8 L483.6 639.3 L474.3 638.8 L465 638.3Z" fill="#718a7b"/>
<path d="M465 638.3 L474.3 638.8 L483.6 639.3 L492.9 639.8 L502.1 640.2 L511.4 640.5 L520.7 640.8 L530 641.2 L539.3 642 L548.6 642.7 L557.9 643.4 L567.1 644.1 L576.4 644.9 L585.7 645.6 L595 647 L595 671.2 L585.7 670.6 L576.4 670.2 L567.1 669.8 L557.9 669.2 L548.6 668.8 L539.3 668.3 L530 668 L520.7 667.8 L511.4 667.3 L502.1 666.9 L492.9 666.6 L483.6 666.3 L474.3 665.9 L465 665.2Z" fill="#f0f0ee"/>
<path d="M465 665.2 L474.3 665.9 L483.6 666.3 L492.9 666.6 L502.1 666.9 L511.4 667.3 L520.7 667.8 L530 668 L539.3 668.3 L548.6 668.8 L557.9 669.2 L567.1 669.8 L576.4 670.2 L585.7 670.6 L595 671.2 L595 695 L465 695Z" fill="#d2bea9"/>
<path d="M612 606 L742 606 L742 637.3 L732.7 636.4 L723.4 636.2 L714.1 635.9 L704.9 635.4 L695.6 635 L686.3 634.7 L677 634.4 L667.7 633.6 L658.4 633 L649.1 632.5 L639.9 632.1 L630.6 632.1 L621.3 631.8 L612 631.1Z" fill="#718a7b"/>
<path d="M612 631.1 L621.3 631.8 L630.6 632.1 L639.9 632.1 L649.1 632.5 L658.4 633 L667.7 633.6 L677 634.4 L686.3 634.7 L695.6 635 L704.9 635.4 L714.1 635.9 L723.4 636.2 L732.7 636.4 L742 637.3 L742 665.9 L732.7 665.9 L723.4 665.2 L714.1 664.9 L704.9 664.4 L695.6 664 L686.3 663.7 L677 663.4 L667.7 663 L658.4 662.3 L649.1 662 L639.9 662 L630.6 661.5 L621.3 661.1 L612 660.8Z" fill="#f0f0ee"/>
<path d="M612 660.8 L621.3 661.1 L630.6 661.5 L639.9 662 L649.1 662 L658.4 662.3 L667.7 663 L677 663.4 L686.3 663.7 L695.6 664 L704.9 664.4 L714.1 664.9 L723.4 665.2 L732.7 665.9 L742 665.9 L742 695 L612 695Z" fill="#d2bea9"/>
<path d="M761 606 L891 606 L891 634.7 L881.7 634.4 L872.4 633.6 L863.1 633 L853.9 632.5 L844.6 632.5 L835.3 632.1 L826 631.8 L816.7 631.1 L807.4 630.6 L798.1 630.6 L788.9 630.4 L779.6 629.6 L770.3 629.2 L761 628.9Z" fill="#718a7b"/>
<path d="M761 628.9 L770.3 629.2 L779.6 629.6 L788.9 630.4 L798.1 630.6 L807.4 630.6 L816.7 631.1 L826 631.8 L835.3 632.1 L844.6 632.5 L853.9 632.5 L863.1 633 L872.4 633.6 L881.7 634.4 L891 634.7 L891 662 L881.7 661.1 L872.4 660.1 L863.1 659.6 L853.9 659.1 L844.6 658.6 L835.3 659.1 L826 658.6 L816.7 658.2 L807.4 657.6 L798.1 657.2 L788.9 656.8 L779.6 656.2 L770.3 655.3 L761 655Z" fill="#f0f0ee"/>
<path d="M761 655 L770.3 655.3 L779.6 656.2 L788.9 656.8 L798.1 657.2 L807.4 657.6 L816.7 658.2 L826 658.6 L835.3 659.1 L844.6 658.6 L853.9 659.1 L863.1 659.6 L872.4 660.1 L881.7 661.1 L891 662 L891 695 L761 695Z" fill="#d2bea9"/>
<path d="M910 606 L1040 606 L1040 631.1 L1030.7 630.6 L1021.4 630.1 L1012.1 629.2 L1002.9 628.9 L993.6 628.2 L984.3 628.2 L975 627.8 L965.7 627.5 L956.4 626.7 L947.1 626.3 L937.9 626.3 L928.6 626 L919.3 624.9 L910 624.3Z" fill="#718a7b"/>
<path d="M910 624.3 L919.3 624.9 L928.6 626 L937.9 626.3 L947.1 626.3 L956.4 626.7 L965.7 627.5 L975 627.8 L984.3 628.2 L993.6 628.2 L1002.9 628.9 L1012.1 629.2 L1021.4 630.1 L1030.7 630.6 L1040 631.1 L1040 656.5 L1030.7 656.2 L1021.4 655.3 L1012.1 654.7 L1002.9 654.3 L993.6 653.8 L984.3 653.6 L975 653.3 L965.7 652.8 L956.4 652.8 L947.1 652.4 L937.9 652.4 L928.6 652.1 L919.3 651.8 L910 651.4Z" fill="#f0f0ee"/>
<path d="M910 651.4 L919.3 651.8 L928.6 652.1 L937.9 652.4 L947.1 652.4 L956.4 652.8 L965.7 652.8 L975 653.3 L984.3 653.6 L993.6 653.8 L1002.9 654.3 L1012.1 654.7 L1021.4 655.3 L1030.7 656.2 L1040 656.5 L1040 695 L910 695Z" fill="#d2bea9"/>
<path d="M1059 606 L1189 606 L1189 627.6 L1179.7 627.8 L1170.4 627.2 L1161.1 625.4 L1151.9 624.8 L1142.6 625.4 L1133.3 624.8 L1124 624.8 L1114.7 624.2 L1105.4 623.6 L1096.1 623.6 L1086.9 623.3 L1077.6 623 L1068.3 623 L1059 622.4Z" fill="#718a7b"/>
<path d="M1059 622.4 L1068.3 623 L1077.6 623 L1086.9 623.3 L1096.1 623.6 L1105.4 623.6 L1114.7 624.2 L1124 624.8 L1133.3 624.8 L1142.6 625.4 L1151.9 624.8 L1161.1 625.4 L1170.4 627.2 L1179.7 627.8 L1189 627.6 L1189 650 L1179.7 650 L1170.4 649.2 L1161.1 648.5 L1151.9 647.3 L1142.6 647.6 L1133.3 647.6 L1124 646.8 L1114.7 645.8 L1105.4 645.2 L1096.1 645.2 L1086.9 644.9 L1077.6 644.6 L1068.3 643.7 L1059 642.8Z" fill="#f0f0ee"/>
<path d="M1059 642.8 L1068.3 643.7 L1077.6 644.6 L1086.9 644.9 L1096.1 645.2 L1105.4 645.2 L1114.7 645.8 L1124 646.8 L1133.3 647.6 L1142.6 647.6 L1151.9 647.3 L1161.1 648.5 L1170.4 649.2 L1179.7 650 L1189 650 L1189 695 L1059 695Z" fill="#d2bea9"/>
<path d="M1208 606 L1338 606 L1338 643.3 L1328.7 642.8 L1319.4 642.3 L1310.1 641.8 L1300.9 641.3 L1291.6 640.8 L1282.3 640.4 L1273 640.1 L1263.7 639.6 L1254.4 639.2 L1245.1 638.4 L1235.9 637.7 L1226.6 637.4 L1217.3 637.2 L1208 636.2Z" fill="#718a7b"/>
<path d="M1208 636.2 L1217.3 637.2 L1226.6 637.4 L1235.9 637.7 L1245.1 638.4 L1254.4 639.2 L1263.7 639.6 L1273 640.1 L1282.3 640.4 L1291.6 640.8 L1300.9 641.3 L1310.1 641.8 L1319.4 642.3 L1328.7 642.8 L1338 643.3 L1338 667.8 L1328.7 667.3 L1319.4 666.8 L1310.1 666.3 L1300.9 665.8 L1291.6 665.3 L1282.3 664.8 L1273 664.1 L1263.7 663.8 L1254.4 662.9 L1245.1 662.6 L1235.9 662 L1226.6 661.4 L1217.3 660.8 L1208 660.2Z" fill="#f0f0ee"/>
<path d="M1208 660.2 L1217.3 660.8 L1226.6 661.4 L1235.9 662 L1245.1 662.6 L1254.4 662.9 L1263.7 663.8 L1273 664.1 L1282.3 664.8 L1291.6 665.3 L1300.9 665.8 L1310.1 666.3 L1319.4 666.8 L1328.7 667.3 L1338 667.8 L1338 695 L1208 695Z" fill="#d2bea9"/>
<path d="M1356 606 L1486 606 L1486 644 L1453.5 642 L1421 640 L1388.5 638 L1356 636Z" fill="#718a7b"/>
<path d="M1356 636 L1388.5 638 L1421 640 L1453.5 642 L1486 644 L1486 664 L1453.5 662 L1421 660 L1388.5 658 L1356 656Z" fill="#f0f0ee"/>
<path d="M1356 656 L1388.5 658 L1421 660 L1453.5 662 L1486 664 L1486 695 L1356 695Z" fill="#d2bea9"/>
<path d="M316 737 L446 737 L446 766.9 L436.7 766 L427.4 765.4 L418.1 764.6 L408.9 764 L399.6 763.5 L390.3 763.1 L381 762.8 L371.7 762.1 L362.4 761.4 L353.1 761.1 L343.9 761.1 L334.6 760.6 L325.3 760.2 L316 759.2Z" fill="#718a7b"/>
<path d="M316 759.2 L325.3 760.2 L334.6 760.6 L343.9 761.1 L353.1 761.1 L362.4 761.4 L371.7 762.1 L381 762.8 L390.3 763.1 L399.6 763.5 L408.9 764 L418.1 764.6 L427.4 765.4 L436.7 766 L446 766.9 L446 795 L436.7 795 L427.4 795 L418.1 794.7 L408.9 794 L399.6 793.3 L390.3 793 L381 792.5 L371.7 792.1 L362.4 791.5 L353.1 791.5 L343.9 791.1 L334.6 791.1 L325.3 790.6 L316 790.4Z" fill="#f0f0ee"/>
<path d="M316 790.4 L325.3 790.6 L334.6 791.1 L343.9 791.1 L353.1 791.5 L362.4 791.5 L371.7 792.1 L381 792.5 L390.3 793 L399.6 793.3 L408.9 794 L418.1 794.7 L427.4 795 L436.7 795 L446 795 L446 826 L316 826Z" fill="#d2bea9"/>
<path d="M465 737 L595 737 L595 764.5 L585.7 764 L576.4 763.5 L567.1 762.8 L557.9 762.1 L548.6 761.4 L539.3 761.6 L530 761.4 L520.7 760.6 L511.4 760.6 L502.1 760.2 L492.9 759.9 L483.6 759.9 L474.3 759.6 L465 758.8Z" fill="#718a7b"/>
<path d="M465 758.8 L474.3 759.6 L483.6 759.9 L492.9 759.9 L502.1 760.2 L511.4 760.6 L520.7 760.6 L530 761.4 L539.3 761.6 L548.6 761.4 L557.9 762.1 L567.1 762.8 L576.4 763.5 L585.7 764 L595 764.5 L595 791.5 L585.7 792.1 L576.4 791.8 L567.1 791.5 L557.9 790.4 L548.6 790.1 L539.3 789.6 L530 789.6 L520.7 789.2 L511.4 788.6 L502.1 788.6 L492.9 788.2 L483.6 787.8 L474.3 787.2 L465 787.5Z" fill="#f0f0ee"/>
<path d="M465 787.5 L474.3 787.2 L483.6 787.8 L492.9 788.2 L502.1 788.6 L511.4 788.6 L520.7 789.2 L530 789.6 L539.3 789.6 L548.6 790.1 L557.9 790.4 L567.1 791.5 L576.4 791.8 L585.7 792.1 L595 791.5 L595 826 L465 826Z" fill="#d2bea9"/>
<path d="M612 737 L742 737 L742 768.3 L732.7 767.9 L723.4 767.9 L714.1 767.9 L704.9 767.4 L695.6 767.4 L686.3 767.2 L677 767.2 L667.7 766 L658.4 765.4 L649.1 765.4 L639.9 765 L630.6 764.3 L621.3 763.5 L612 763.5Z" fill="#718a7b"/>
<path d="M612 763.5 L621.3 763.5 L630.6 764.3 L639.9 765 L649.1 765.4 L658.4 765.4 L667.7 766 L677 767.2 L686.3 767.2 L695.6 767.4 L704.9 767.4 L714.1 767.9 L723.4 767.9 L732.7 767.9 L742 768.3 L742 796.4 L732.7 796.4 L723.4 796.2 L714.1 795.4 L704.9 795.4 L695.6 795 L686.3 795 L677 795 L667.7 794.7 L658.4 794.4 L649.1 794 L639.9 793.5 L630.6 793 L621.3 792.1 L612 791.8Z" fill="#f0f0ee"/>
<path d="M612 791.8 L621.3 792.1 L630.6 793 L639.9 793.5 L649.1 794 L658.4 794.4 L667.7 794.7 L677 795 L686.3 795 L695.6 795 L704.9 795.4 L714.1 795.4 L723.4 796.2 L732.7 796.4 L742 796.4 L742 826 L612 826Z" fill="#d2bea9"/>
<path d="M761 737 L891 737 L891 760.6 L881.7 759.9 L872.4 759.6 L863.1 759.2 L853.9 758.5 L844.6 758.2 L835.3 757.7 L826 757.3 L816.7 757 L807.4 756.7 L798.1 756.3 L788.9 755.9 L779.6 755.6 L770.3 755.3 L761 754.1Z" fill="#718a7b"/>
<path d="M761 754.1 L770.3 755.3 L779.6 755.6 L788.9 755.9 L798.1 756.3 L807.4 756.7 L816.7 757 L826 757.3 L835.3 757.7 L844.6 758.2 L853.9 758.5 L863.1 759.2 L872.4 759.6 L881.7 759.9 L891 760.6 L891 786.3 L881.7 786 L872.4 785.3 L863.1 784.8 L853.9 783.8 L844.6 783.4 L835.3 783.1 L826 782.8 L816.7 782.4 L807.4 782 L798.1 781.7 L788.9 781.4 L779.6 781.4 L770.3 780.9 L761 780.9Z" fill="#f0f0ee"/>
<path d="M761 780.9 L770.3 780.9 L779.6 781.4 L788.9 781.4 L798.1 781.7 L807.4 782 L816.7 782.4 L826 782.8 L835.3 783.1 L844.6 783.4 L853.9 783.8 L863.1 784.8 L872.4 785.3 L881.7 786 L891 786.3 L891 826 L761 826Z" fill="#d2bea9"/>
<path d="M910 737 L1040 737 L1040 765.4 L1030.7 764.3 L1021.4 763.5 L1012.1 762.8 L1002.9 762.1 L993.6 761.4 L984.3 761.1 L975 760.2 L965.7 759.9 L956.4 759.6 L947.1 759.2 L937.9 759.2 L928.6 758.8 L919.3 758.2 L910 757.3Z" fill="#718a7b"/>
<path d="M910 757.3 L919.3 758.2 L928.6 758.8 L937.9 759.2 L947.1 759.2 L956.4 759.6 L965.7 759.9 L975 760.2 L984.3 761.1 L993.6 761.4 L1002.9 762.1 L1012.1 762.8 L1021.4 763.5 L1030.7 764.3 L1040 765.4 L1040 789.6 L1030.7 789.2 L1021.4 788.9 L1012.1 788.2 L1002.9 787.5 L993.6 786.7 L984.3 786 L975 785.3 L965.7 784.8 L956.4 784.3 L947.1 783.4 L937.9 783.1 L928.6 782.8 L919.3 782.4 L910 782.4Z" fill="#f0f0ee"/>
<path d="M910 782.4 L919.3 782.4 L928.6 782.8 L937.9 783.1 L947.1 783.4 L956.4 784.3 L965.7 784.8 L975 785.3 L984.3 786 L993.6 786.7 L1002.9 787.5 L1012.1 788.2 L1021.4 788.9 L1030.7 789.2 L1040 789.6 L1040 826 L910 826Z" fill="#d2bea9"/>
<path d="M1059 737 L1189 737 L1189 768.9 L1179.7 768.3 L1170.4 767.9 L1161.1 767.2 L1151.9 766.4 L1142.6 765.4 L1133.3 764.6 L1124 764 L1114.7 763.5 L1105.4 762.8 L1096.1 762.5 L1086.9 762.1 L1077.6 761.4 L1068.3 760.6 L1059 759.9Z" fill="#718a7b"/>
<path d="M1059 759.9 L1068.3 760.6 L1077.6 761.4 L1086.9 762.1 L1096.1 762.5 L1105.4 762.8 L1114.7 763.5 L1124 764 L1133.3 764.6 L1142.6 765.4 L1151.9 766.4 L1161.1 767.2 L1170.4 767.9 L1179.7 768.3 L1189 768.9 L1189 795 L1179.7 794.7 L1170.4 794.4 L1161.1 793.5 L1151.9 793 L1142.6 792.5 L1133.3 792.1 L1124 791.8 L1114.7 791.1 L1105.4 790.6 L1096.1 790.4 L1086.9 789.6 L1077.6 788.9 L1068.3 788.2 L1059 787.8Z" fill="#f0f0ee"/>
<path d="M1059 787.8 L1068.3 788.2 L1077.6 788.9 L1086.9 789.6 L1096.1 790.4 L1105.4 790.6 L1114.7 791.1 L1124 791.8 L1133.3 792.1 L1142.6 792.5 L1151.9 793 L1161.1 793.5 L1170.4 794.4 L1179.7 794.7 L1189 795 L1189 826 L1059 826Z" fill="#d2bea9"/>
<path d="M1208 737 L1338 737 L1338 766 L1328.7 765.6 L1319.4 765.2 L1310.1 764.7 L1300.9 764.2 L1291.6 763.7 L1282.3 763.2 L1273 762.8 L1263.7 762.3 L1254.4 761.6 L1245.1 761 L1235.9 760.3 L1226.6 759.5 L1217.3 758.8 L1208 758.1Z" fill="#718a7b"/>
<path d="M1208 758.1 L1217.3 758.8 L1226.6 759.5 L1235.9 760.3 L1245.1 761 L1254.4 761.6 L1263.7 762.3 L1273 762.8 L1282.3 763.2 L1291.6 763.7 L1300.9 764.2 L1310.1 764.7 L1319.4 765.2 L1328.7 765.6 L1338 766 L1338 790.5 L1328.7 790 L1319.4 789.5 L1310.1 789 L1300.9 788.4 L1291.6 787.9 L1282.3 787.3 L1273 787 L1263.7 786.7 L1254.4 786.1 L1245.1 785.5 L1235.9 784.9 L1226.6 784.3 L1217.3 783.8 L1208 783.2Z" fill="#f0f0ee"/>
<path d="M1208 783.2 L1217.3 783.8 L1226.6 784.3 L1235.9 784.9 L1245.1 785.5 L1254.4 786.1 L1263.7 786.7 L1273 787 L1282.3 787.3 L1291.6 787.9 L1300.9 788.4 L1310.1 789 L1319.4 789.5 L1328.7 790 L1338 790.5 L1338 826 L1208 826Z" fill="#d2bea9"/>
<path d="M612 868 L742 868 L742 894.1 L732.7 893.5 L723.4 893.1 L714.1 893.1 L704.9 892.4 L695.6 891.6 L686.3 890.9 L677 890.9 L667.7 890.6 L658.4 890.2 L649.1 890.2 L639.9 889.8 L630.6 889.8 L621.3 889.8 L612 889.2Z" fill="#718a7b"/>
<path d="M612 889.2 L621.3 889.8 L630.6 889.8 L639.9 889.8 L649.1 890.2 L658.4 890.2 L667.7 890.6 L677 890.9 L686.3 890.9 L695.6 891.6 L704.9 892.4 L714.1 893.1 L723.4 893.1 L732.7 893.5 L742 894.1 L742 921.6 L732.7 921.4 L723.4 921.1 L714.1 920.6 L704.9 919.9 L695.6 919.6 L686.3 919.2 L677 918.8 L667.7 918.5 L658.4 918.2 L649.1 917.7 L639.9 917.3 L630.6 916.7 L621.3 916.7 L612 916.3Z" fill="#f0f0ee"/>
<path d="M612 916.3 L621.3 916.7 L630.6 916.7 L639.9 917.3 L649.1 917.7 L658.4 918.2 L667.7 918.5 L677 918.8 L686.3 919.2 L695.6 919.6 L704.9 919.9 L714.1 920.6 L723.4 921.1 L732.7 921.4 L742 921.6 L742 957 L612 957Z" fill="#d2bea9"/>
<path d="M761 868 L891 868 L891 893.1 L881.7 892.1 L872.4 891.6 L863.1 891.2 L853.9 890.9 L844.6 890.2 L835.3 889.8 L826 889.8 L816.7 889.2 L807.4 888.7 L798.1 888.7 L788.9 888.3 L779.6 888 L770.3 887.7 L761 887.3Z" fill="#718a7b"/>
<path d="M761 887.3 L770.3 887.7 L779.6 888 L788.9 888.3 L798.1 888.7 L807.4 888.7 L816.7 889.2 L826 889.8 L835.3 889.8 L844.6 890.2 L853.9 890.9 L863.1 891.2 L872.4 891.6 L881.7 892.1 L891 893.1 L891 916.3 L881.7 916.7 L872.4 916.3 L863.1 915.8 L853.9 915.8 L844.6 915.6 L835.3 915.3 L826 914.8 L816.7 914.8 L807.4 914.4 L798.1 914.4 L788.9 914.1 L779.6 913.8 L770.3 913.4 L761 913.4Z" fill="#f0f0ee"/>
<path d="M761 913.4 L770.3 913.4 L779.6 913.8 L788.9 914.1 L798.1 914.4 L807.4 914.4 L816.7 914.8 L826 914.8 L835.3 915.3 L844.6 915.6 L853.9 915.8 L863.1 915.8 L872.4 916.3 L881.7 916.7 L891 916.3 L891 957 L761 957Z" fill="#d2bea9"/>
<path d="M910 868 L1040 868 L1040 891.6 L1030.7 890.6 L1021.4 889.8 L1012.1 890.2 L1002.9 889.5 L993.6 888.7 L984.3 888.3 L975 887.7 L965.7 887.3 L956.4 887.3 L947.1 887.3 L937.9 886.9 L928.6 886.6 L919.3 886.3 L910 885.8Z" fill="#718a7b"/>
<path d="M910 885.8 L919.3 886.3 L928.6 886.6 L937.9 886.9 L947.1 887.3 L956.4 887.3 L965.7 887.3 L975 887.7 L984.3 888.3 L993.6 888.7 L1002.9 889.5 L1012.1 890.2 L1021.4 889.8 L1030.7 890.6 L1040 891.6 L1040 920.6 L1030.7 919.9 L1021.4 919.2 L1012.1 918.5 L1002.9 917.7 L993.6 917.3 L984.3 916.7 L975 916.3 L965.7 915.8 L956.4 915.3 L947.1 914.8 L937.9 914.4 L928.6 914.1 L919.3 913.8 L910 913.4Z" fill="#f0f0ee"/>
<path d="M910 913.4 L919.3 913.8 L928.6 914.1 L937.9 914.4 L947.1 914.8 L956.4 915.3 L965.7 915.8 L975 916.3 L984.3 916.7 L993.6 917.3 L1002.9 917.7 L1012.1 918.5 L1021.4 919.2 L1030.7 919.9 L1040 920.6 L1040 957 L910 957Z" fill="#d2bea9"/>
<path d="M1059 868 L1189 868 L1189 893.8 L1179.7 893.1 L1170.4 892.4 L1161.1 891.6 L1151.9 891.6 L1142.6 891.2 L1133.3 890.9 L1124 890.2 L1114.7 889.8 L1105.4 889.5 L1096.1 889.2 L1086.9 889.5 L1077.6 889.2 L1068.3 888.3 L1059 887.3Z" fill="#718a7b"/>
<path d="M1059 887.3 L1068.3 888.3 L1077.6 889.2 L1086.9 889.5 L1096.1 889.2 L1105.4 889.5 L1114.7 889.8 L1124 890.2 L1133.3 890.9 L1142.6 891.2 L1151.9 891.6 L1161.1 891.6 L1170.4 892.4 L1179.7 893.1 L1189 893.8 L1189 921.4 L1179.7 920.6 L1170.4 919.9 L1161.1 919.6 L1151.9 919.2 L1142.6 918.5 L1133.3 918.2 L1124 917.7 L1114.7 917.3 L1105.4 916.7 L1096.1 916.3 L1086.9 915.8 L1077.6 915.6 L1068.3 914.8 L1059 914.1Z" fill="#f0f0ee"/>
<path d="M1059 914.1 L1068.3 914.8 L1077.6 915.6 L1086.9 915.8 L1096.1 916.3 L1105.4 916.7 L1114.7 917.3 L1124 917.7 L1133.3 918.2 L1142.6 918.5 L1151.9 919.2 L1161.1 919.6 L1170.4 919.9 L1179.7 920.6 L1189 921.4 L1189 957 L1059 957Z" fill="#d2bea9"/>
<path d="M1208 868 L1338 868 L1338 899.5 L1328.7 899 L1319.4 898.5 L1310.1 898 L1300.9 897.5 L1291.6 897 L1282.3 896.5 L1273 896 L1263.7 895.3 L1254.4 894.6 L1245.1 893.9 L1235.9 893.2 L1226.6 892.5 L1217.3 891.8 L1208 891.1Z" fill="#718a7b"/>
<path d="M1208 891.1 L1217.3 891.8 L1226.6 892.5 L1235.9 893.2 L1245.1 893.9 L1254.4 894.6 L1263.7 895.3 L1273 896 L1282.3 896.5 L1291.6 897 L1300.9 897.5 L1310.1 898 L1319.4 898.5 L1328.7 899 L1338 899.5 L1338 924.4 L1328.7 924 L1319.4 923.6 L1310.1 923.2 L1300.9 922.8 L1291.6 922.4 L1282.3 922 L1273 921.5 L1263.7 920.9 L1254.4 920.2 L1245.1 919.5 L1235.9 918.8 L1226.6 918.1 L1217.3 917.4 L1208 916.7Z" fill="#f0f0ee"/>
<path d="M1208 916.7 L1217.3 917.4 L1226.6 918.1 L1235.9 918.8 L1245.1 919.5 L1254.4 920.2 L1263.7 920.9 L1273 921.5 L1282.3 922 L1291.6 922.4 L1300.9 922.8 L1310.1 923.2 L1319.4 923.6 L1328.7 924 L1338 924.4 L1338 957 L1208 957Z" fill="#d2bea9"/>
<path d="M18 1000 L148 1000 L148 1033.3 L138.7 1032.2 L129.4 1031.6 L120.1 1031.1 L110.9 1030.7 L101.6 1030.3 L92.3 1029.8 L83 1029.2 L73.7 1028 L64.4 1027.7 L55.1 1028 L45.9 1027.7 L36.6 1026.6 L27.3 1025.6 L18 1026.4Z" fill="#718a7b"/>
<path d="M18 1026.4 L27.3 1025.6 L36.6 1026.6 L45.9 1027.7 L55.1 1028 L64.4 1027.7 L73.7 1028 L83 1029.2 L92.3 1029.8 L101.6 1030.3 L110.9 1030.7 L120.1 1031.1 L129.4 1031.6 L138.7 1032.2 L148 1033.3 L148 1058.6 L138.7 1059 L129.4 1058.6 L120.1 1058 L110.9 1057.7 L101.6 1057.1 L92.3 1057.1 L83 1057.3 L73.7 1056.9 L64.4 1056.6 L55.1 1055.7 L45.9 1055.4 L36.6 1054.7 L27.3 1054.7 L18 1054.3Z" fill="#f0f0ee"/>
<path d="M18 1054.3 L27.3 1054.7 L36.6 1054.7 L45.9 1055.4 L55.1 1055.7 L64.4 1056.6 L73.7 1056.9 L83 1057.3 L92.3 1057.1 L101.6 1057.1 L110.9 1057.7 L120.1 1058 L129.4 1058.6 L138.7 1059 L148 1058.6 L148 1089 L18 1089Z" fill="#d2bea9"/>
<path d="M612 1000 L742 1000 L742 1031.1 L732.7 1030.3 L723.4 1029.8 L714.1 1029 L704.9 1028 L695.6 1027.1 L686.3 1027.1 L677 1026.8 L667.7 1025.7 L658.4 1026 L649.1 1025.1 L639.9 1024.7 L630.6 1024.3 L621.3 1023.4 L612 1023Z" fill="#718a7b"/>
<path d="M612 1023 L621.3 1023.4 L630.6 1024.3 L639.9 1024.7 L649.1 1025.1 L658.4 1026 L667.7 1025.7 L677 1026.8 L686.3 1027.1 L695.6 1027.1 L704.9 1028 L714.1 1029 L723.4 1029.8 L732.7 1030.3 L742 1031.1 L742 1055.1 L732.7 1054.7 L723.4 1054.3 L714.1 1053.9 L704.9 1052.8 L695.6 1052.6 L686.3 1052.3 L677 1052.1 L667.7 1051.7 L658.4 1051.3 L649.1 1050.9 L639.9 1050.4 L630.6 1049.7 L621.3 1049.6 L612 1049.1Z" fill="#f0f0ee"/>
<path d="M612 1049.1 L621.3 1049.6 L630.6 1049.7 L639.9 1050.4 L649.1 1050.9 L658.4 1051.3 L667.7 1051.7 L677 1052.1 L686.3 1052.3 L695.6 1052.6 L704.9 1052.8 L714.1 1053.9 L723.4 1054.3 L732.7 1054.7 L742 1055.1 L742 1089 L612 1089Z" fill="#d2bea9"/>
<path d="M1356 1000 L1486 1000 L1486 1031.4 L1476.7 1030.7 L1467.4 1029.8 L1458.1 1029 L1448.9 1028 L1439.6 1027.1 L1430.3 1026.8 L1421 1026.6 L1411.7 1025.7 L1402.4 1025.5 L1393.1 1024.7 L1383.9 1024.7 L1374.6 1024.7 L1365.3 1023.4 L1356 1023Z" fill="#718a7b"/>
<path d="M1356 1023 L1365.3 1023.4 L1374.6 1024.7 L1383.9 1024.7 L1393.1 1024.7 L1402.4 1025.5 L1411.7 1025.7 L1421 1026.6 L1430.3 1026.8 L1439.6 1027.1 L1448.9 1028 L1458.1 1029 L1467.4 1029.8 L1476.7 1030.7 L1486 1031.4 L1486 1056.6 L1476.7 1056.3 L1467.4 1055.6 L1458.1 1055.1 L1448.9 1054.5 L1439.6 1053.9 L1430.3 1053.2 L1421 1053 L1411.7 1052.8 L1402.4 1052.6 L1393.1 1051.7 L1383.9 1051.1 L1374.6 1050.4 L1365.3 1049.6 L1356 1049.1Z" fill="#f0f0ee"/>
<path d="M1356 1049.1 L1365.3 1049.6 L1374.6 1050.4 L1383.9 1051.1 L1393.1 1051.7 L1402.4 1052.6 L1411.7 1052.8 L1421 1053 L1430.3 1053.2 L1439.6 1053.9 L1448.9 1054.5 L1458.1 1055.1 L1467.4 1055.6 L1476.7 1056.3 L1486 1056.6 L1486 1089 L1356 1089Z" fill="#d2bea9"/>
<line x1="8.5" y1="125.3" x2="157" y2="125.3" stroke="#262626" stroke-width="2.4" stroke-dasharray="9 5.4" stroke-dashoffset="13.3"/>
<line x1="1643.5" y1="125.3" x2="1792" y2="125.3" stroke="#262626" stroke-width="2.4" stroke-dasharray="9 5.4" stroke-dashoffset="6.7"/>
<line x1="1494.5" y1="256.3" x2="1792" y2="256.3" stroke="#262626" stroke-width="2.4" stroke-dasharray="9 5.4" stroke-dashoffset="1.7"/>
<line x1="157.5" y1="388.3" x2="1792" y2="388.3" stroke="#262626" stroke-width="2.4" stroke-dasharray="9 5.4" stroke-dashoffset="3.9"/>
<line x1="157.5" y1="519.3" x2="1643" y2="519.3" stroke="#262626" stroke-width="2.4" stroke-dasharray="9 5.4" stroke-dashoffset="3.9"/>
<line x1="157.5" y1="651.3" x2="1643" y2="651.3" stroke="#262626" stroke-width="2.4" stroke-dasharray="9 5.4" stroke-dashoffset="3.9"/>
<line x1="306.6" y1="782.3" x2="1495" y2="782.3" stroke="#262626" stroke-width="2.4" stroke-dasharray="9 5.4" stroke-dashoffset="9"/>
<line x1="602.5" y1="913.3" x2="1347" y2="913.3" stroke="#262626" stroke-width="2.4" stroke-dasharray="9 5.4" stroke-dashoffset="2.5"/>
<line x1="8.5" y1="1045.3" x2="157" y2="1045.3" stroke="#262626" stroke-width="2.4" stroke-dasharray="9 5.4" stroke-dashoffset="13.3"/>
<line x1="602.5" y1="1045.3" x2="751" y2="1045.3" stroke="#262626" stroke-width="2.4" stroke-dasharray="9 5.4" stroke-dashoffset="2.5"/>
<line x1="1346.5" y1="1045.3" x2="1495" y2="1045.3" stroke="#262626" stroke-width="2.4" stroke-dasharray="9 5.4" stroke-dashoffset="12.1"/>
<circle cx="1263.2" cy="523.2" r="2.8" fill="#111"/>
<circle cx="1263.2" cy="562.8" r="2.8" fill="#111"/>
</svg>
<div class="lbl" style="left:18px;top:63px">AK</div>
<div class="lbl" style="left:1653px;top:63px">ME</div>
<div class="lbl" style="left:1504px;top:194px">VT</div>
<div class="lbl" style="left:1653px;top:194px">NH</div>
<div class="lbl" style="left:167px;top:326px">WA</div>
<div class="lbl" style="left:316px;top:326px">ID</div>
<div class="lbl" style="left:465px;top:326px">MT</div>
<div class="lbl" style="left:612px;top:326px">ND</div>
<div class="lbl" style="left:761px;top:326px">MN</div>
<div class="lbl" style="left:910px;top:326px">IL</div>
<div class="lbl" style="left:1059px;top:326px">WI</div>
<div class="lbl" style="left:1208px;top:326px">MI</div>
<div class="lbl" style="left:1356px;top:326px">NY</div>
<div class="lbl" style="left:1504px;top:326px">RI</div>
<div class="lbl" style="left:1653px;top:326px">MA</div>
<div class="lbl" style="left:167px;top:457px">OR</div>
<div class="lbl" style="left:316px;top:457px">NV</div>
<div class="lbl" style="left:465px;top:457px">WY</div>
<div class="lbl" style="left:612px;top:457px">SD</div>
<div class="lbl" style="left:761px;top:457px">IA</div>
<div class="lbl" style="left:910px;top:457px">IN</div>
<div class="lbl" style="left:1059px;top:457px">OH</div>
<div class="lbl" style="left:1208px;top:457px">PA</div>
<div class="lbl" style="left:1356px;top:457px">NJ</div>
<div class="lbl" style="left:1504px;top:457px">CT</div>
<div class="lbl" style="left:167px;top:589px">CA</div>
<div class="lbl" style="left:316px;top:589px">UT</div>
<div class="lbl" style="left:465px;top:589px">CO</div>
<div class="lbl" style="left:612px;top:589px">NE</div>
<div class="lbl" style="left:761px;top:589px">MO</div>
<div class="lbl" style="left:910px;top:589px">KY</div>
<div class="lbl" style="left:1059px;top:589px">WV</div>
<div class="lbl" style="left:1208px;top:589px">VA</div>
<div class="lbl" style="left:1356px;top:589px">MD</div>
<div class="lbl" style="left:316px;top:720px">AZ</div>
<div class="lbl" style="left:465px;top:720px">NM</div>
<div class="lbl" style="left:612px;top:720px">KS</div>
<div class="lbl" style="left:761px;top:720px">AR</div>
<div class="lbl" style="left:910px;top:720px">TN</div>
<div class="lbl" style="left:1059px;top:720px">NC</div>
<div class="lbl" style="left:1208px;top:720px">SC</div>
<div class="lbl" style="left:612px;top:851px">OK</div>
<div class="lbl" style="left:761px;top:851px">LA</div>
<div class="lbl" style="left:910px;top:851px">MS</div>
<div class="lbl" style="left:1059px;top:851px">AL</div>
<div class="lbl" style="left:1208px;top:851px">GA</div>
<div class="lbl" style="left:18px;top:983px">HI</div>
<div class="lbl" style="left:612px;top:983px">TX</div>
<div class="lbl" style="left:1356px;top:983px">FL</div>
<div class="legend"><div class="lg-h"></div><div class="lg-t">Click to highlight</div>
<div class="sw" style="top:38px;background:#718a7b"></div><div class="li" style="top:39px">University Degree</div>
<div class="sw" style="top:62px;background:#efefef"></div><div class="li" style="top:63px">Some college or assoc..</div>
<div class="sw" style="top:86px;background:#d2bea9"></div><div class="li" style="top:87px">High School or Less</div>
</div>
<svg class="abs" style="left:1270px;top:530px" width="40" height="40" viewBox="1270 530 40 40">
<path d="M1285.6 550.5 L1285.6 542.8 Q1287.3 539.6 1289 542.8 L1289 546.2 Q1291.5 545 1294 546.2 Q1296.5 545.4 1298.6 547 Q1299.8 552 1297.8 557 L1296.2 559.8 L1290.6 559.8 L1282.4 551.6 Q1281.8 549.6 1284 549.4 Z" fill="#fff" stroke="#57524c" stroke-width="1.5" stroke-linejoin="round"/>
<rect x="1290.3" y="551.5" width="5.5" height="5" fill="#b3b7bb"/>
</svg>
<div class="tip"></div>
<svg class="abs" style="left:0;top:0" width="2000" height="1119" viewBox="0 0 2000 1119" font-family="Liberation Sans, sans-serif">
<polyline points="1406,786.5 1438,786 1470,785.5 1502,785 1534,784.5 1566,784.5 1598,784 1630,783.5 1662,782.9 1694,783.5 1726,784 1758,784.5 1790,785 1822,786 1854,788" fill="none" stroke="#e3e3e3" stroke-width="3" stroke-linejoin="round" stroke-linecap="round"/>
<polyline points="1406,643.3 1438,644.5 1470,650.6 1502,654.2 1534,655.4 1566,660.6 1598,666.7 1630,670.7 1662,674.7 1694,675.9 1726,681.5 1758,687.6 1790,690.4 1822,690 1854,695.3" fill="none" stroke="#b49a78" stroke-width="2.6" stroke-linejoin="round" stroke-linecap="round"/>
<polyline points="1406,768 1438,769.2 1470,763.2 1502,758.4 1534,757.2 1566,753.1 1598,747.1 1630,743.1 1662,740.3 1694,737.5 1726,731 1758,725.4 1790,722.2 1822,720.2 1854,715.6" fill="none" stroke="#15301d" stroke-width="3.2" stroke-linejoin="round" stroke-linecap="round"/>
<circle cx="1406" cy="643.3" r="3" fill="#b49a78"/>
<circle cx="1854" cy="695.3" r="3" fill="#b49a78"/>
<circle cx="1438" cy="769.2" r="3" fill="#15301d"/>
<circle cx="1854" cy="715.6" r="3" fill="#15301d"/>
<circle cx="1662" cy="782.9" r="3" fill="#e3e3e3"/>
<circle cx="1854" cy="788" r="3" fill="#e3e3e3"/>
<text x="1290.5" y="584" font-size="15.3" font-weight="bold" fill="#1c1c45">Pennsylvania • 2016</text>
<text x="1290.5" y="603.6" font-size="16.2" fill="#4c4c60">High School or Less: <tspan font-weight="bold" fill="#1c1c45">45.0%</tspan></text>
<text x="1365" y="641.6" font-size="13" fill="#55555f" text-anchor="end">50.0%</text>
<text x="1365" y="697.7" font-size="13" fill="#55555f" text-anchor="end">40.0%</text>
<text x="1365" y="754.5" font-size="13" fill="#55555f" text-anchor="end">30.0%</text>
<text x="1365" y="812.5" font-size="13" fill="#55555f" text-anchor="end">20.0%</text>
<text x="1365" y="868.7" font-size="13" fill="#55555f" text-anchor="end">10.0%</text>
<text x="1365" y="916.7" font-size="13" fill="#55555f" text-anchor="end">0.0%</text>
<text x="0" y="0" font-size="14.5" fill="#9090a8" text-anchor="middle" transform="translate(1315 772.5) rotate(-90)">Percentage</text>
<text x="1406" y="942" font-size="13.6" fill="#4a4a55" text-anchor="middle">2010</text>
<text x="1470" y="942" font-size="13.6" fill="#4a4a55" text-anchor="middle">2012</text>
<text x="1534" y="942" font-size="13.6" fill="#4a4a55" text-anchor="middle">2014</text>
<text x="1598" y="942" font-size="13.6" fill="#4a4a55" text-anchor="middle">2016</text>
<text x="1662" y="942" font-size="13.6" fill="#4a4a55" text-anchor="middle">2018</text>
<text x="1726" y="942" font-size="13.6" fill="#4a4a55" text-anchor="middle">2020</text>
<text x="1790" y="942" font-size="13.6" fill="#4a4a55" text-anchor="middle">2022</text>
<text x="1854" y="942" font-size="13.6" fill="#4a4a55" text-anchor="middle">2024</text>
<text x="1629" y="965.5" font-size="15" fill="#4a4a55" text-anchor="middle">Year</text>
<text x="1393" y="658" font-size="13" fill="#4a4a55" text-anchor="middle">49.1%</text>
<text x="1437.5" y="758" font-size="13" fill="#4a4a55" text-anchor="middle">27.0%</text>
<text x="1661" y="772.5" font-size="13" fill="#4a4a55" text-anchor="middle">24.5%</text>
<text x="1865" y="685" font-size="13" fill="#4a4a55" text-anchor="middle">40.0%</text>
<text x="1865" y="730.7" font-size="13" fill="#4a4a55" text-anchor="middle">36.4%</text>
<text x="1865" y="803.4" font-size="13" fill="#4a4a55" text-anchor="middle">23.6%</text>
</svg>
</body></html>
